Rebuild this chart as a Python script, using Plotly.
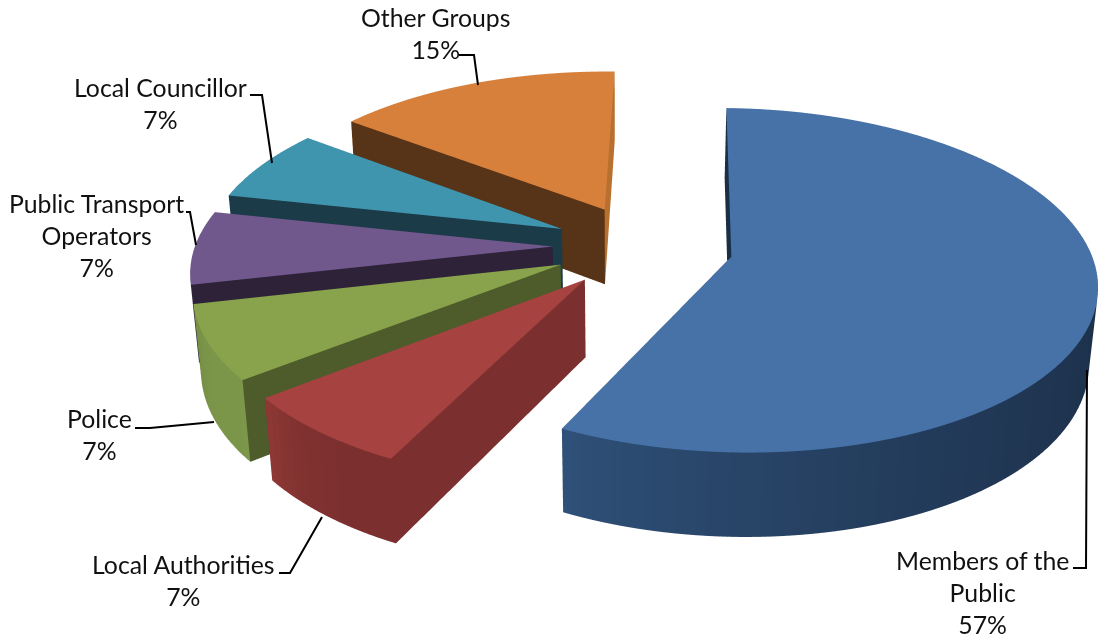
import numpy as np
import plotly.graph_objects as go

# Survey shares, clockwise from twelve o'clock
categories = ["Members of the<br>Public", "Local Authorities", "Police",
              "Public Transport<br>Operators", "Local Councillor", "Other Groups"]
shares = [57, 7, 7, 7, 7, 15]

top_colours = ["#4672A8", "#A64341", "#88A34C", "#70588D", "#3F94AE", "#D7803B"]
radial_colours = ["#1A2E46", "#7B302F", "#4D5C2A", "#2D2238", "#1A3B47", "#573317"]
closing_colours = ["#1A2E46", "#7B302F", "#4D5C2A", "#2D2238", "#1A3B47", "#B8702F"]
rim_start_colours = ["#1A2C44", "#7B302F", "#7C964A", "#5A4672", "#2F6F82", "#B8702F"]
rim_end_colours = ["#2F5078", "#8E3835", "#748E44", "#5A4672", "#2F6F82", "#B8702F"]

PULL = 0.252
THICKNESS = 0.245
TOP_Z = 0.235
SHIFT_X = 0.06
ROTATION = np.radians(1.5)
TILT = np.radians(29.5)
VIEW_DISTANCE = 6.5
SPAN = 1.8
SCALE = 3.96
EYE_DISTANCE = 8

view = np.array([0, np.cos(TILT), -np.sin(TILT)])


def rgb(hex_colour):
    return np.array([int(hex_colour[i:i + 2], 16) for i in (1, 3, 5)], float)


def css(c):
    return "rgb(%d,%d,%d)" % tuple(c)


def foreshorten(p):
    """Projective scaling so an orthographic camera shows depth convergence."""
    p = np.array(p)
    return tuple(p * VIEW_DISTANCE / (VIEW_DISTANCE + p @ view))


def wedge(start, end, top, radial, closing, rim_a, rim_b):
    """Build one pulled-out wedge as a triangle mesh."""
    mid = (start + end) / 2
    ox, oy = SHIFT_X + PULL * np.sin(mid), PULL * np.cos(mid)
    n = max(3, int(np.degrees(end - start) / 1.5))
    th = np.linspace(start, end, n + 1)
    rx, ry = ox + np.sin(th), oy + np.cos(th)
    z_t, z_b = TOP_Z, TOP_Z - THICKNESS

    xs, ys, zs, ii, jj, kk, cols = [], [], [], [], [], [], []

    def tri(a, b, c, colour):
        base = len(xs)
        for p in (a, b, c):
            q = foreshorten(p)
            xs.append(q[0]); ys.append(q[1]); zs.append(q[2])
        ii.append(base); jj.append(base + 1); kk.append(base + 2)
        cols.append(colour)

    apex_t, apex_b = (ox, oy, z_t), (ox, oy, z_b)
    top_c = css(rgb(top))
    for m in range(n):
        p_t, q_t = (rx[m], ry[m], z_t), (rx[m + 1], ry[m + 1], z_t)
        p_b, q_b = (rx[m], ry[m], z_b), (rx[m + 1], ry[m + 1], z_b)
        tri(apex_t, p_t, q_t, top_c)
        f = (m / max(1, n - 1)) ** 2.8
        rim_c = css(rgb(rim_a) * (1 - f) + rgb(rim_b) * f)
        tri(p_t, q_t, q_b, rim_c)
        tri(p_t, q_b, p_b, rim_c)
    for r_x, r_y, wall in ((rx[0], ry[0], radial), (rx[-1], ry[-1], closing)):
        wall_c = css(rgb(wall))
        tri(apex_t, (r_x, r_y, z_t), (r_x, r_y, z_b), wall_c)
        tri(apex_t, (r_x, r_y, z_b), apex_b, wall_c)
    return xs, ys, zs, ii, jj, kk, cols


fig = go.Figure()
edges = np.cumsum([0] + shares) / sum(shares) * 2 * np.pi + ROTATION
for idx, name in enumerate(categories):
    x, y, z, i, j, k, fc = wedge(edges[idx], edges[idx + 1], top_colours[idx],
                                 radial_colours[idx], closing_colours[idx],
                                 rim_start_colours[idx], rim_end_colours[idx])
    fig.add_trace(go.Mesh3d(x=x, y=y, z=z, i=i, j=j, k=k, facecolor=fc, name=name,
                            flatshading=True, hoverinfo="skip", showscale=False,
                            lighting=dict(ambient=1, diffuse=0, specular=0,
                                          roughness=1, fresnel=0)))

hidden = dict(visible=False, showgrid=False, zeroline=False, showticklabels=False,
              showspikes=False, range=[-SPAN, SPAN])
fig.update_layout(
    width=1100, height=639, margin=dict(l=0, r=0, t=0, b=0),
    paper_bgcolor="white", showlegend=False,
    scene=dict(
        domain=dict(x=[0.13, 1], y=[0, 1]),
        xaxis=hidden, yaxis=hidden, zaxis=hidden,
        aspectmode="manual",
        aspectratio=dict(x=SCALE, y=SCALE, z=SCALE),
        camera=dict(projection=dict(type="orthographic"),
                    up=dict(x=0, y=0, z=1),
                    center=dict(x=0, y=0, z=0),
                    eye=dict(x=0, y=-EYE_DISTANCE * np.cos(TILT),
                             z=EYE_DISTANCE * np.sin(TILT))),
    ),
)

# Label anchors (pixel centres) and their elbow leader lines
label_centres = [(982, 592), (183, 580), (99, 434), (96, 235), (160, 103), (435, 34)]
leaders = [
    [(1073, 568), (1086, 568), (1087, 370)],
    [(279, 573), (290, 573), (322, 517)],
    [(135, 428), (150, 428), (214, 422)],
    [(186, 212), (190, 212), (196, 245)],
    [(250, 95), (262, 95), (272, 163)],
    [(459, 55), (474, 55), (478, 85)],
]
W, H = 1100, 639
for name, share, (cx, cy) in zip(categories, shares, label_centres):
    fig.add_annotation(text=f"{name}<br>{share}%", x=cx / W, y=1 - cy / H,
                       xref="paper", yref="paper", xanchor="center", yanchor="middle",
                       showarrow=False, align="center",
                       font=dict(family="Lato", size=24.8, color="#111111"))
for path in leaders:
    d = "M " + " L ".join(f"{px / W} {1 - py / H}" for px, py in path)
    fig.add_shape(type="path", path=d, xref="paper", yref="paper",
                  line=dict(color="black", width=2))

fig.write_html("out.html", config=dict(displayModeBar=False))
